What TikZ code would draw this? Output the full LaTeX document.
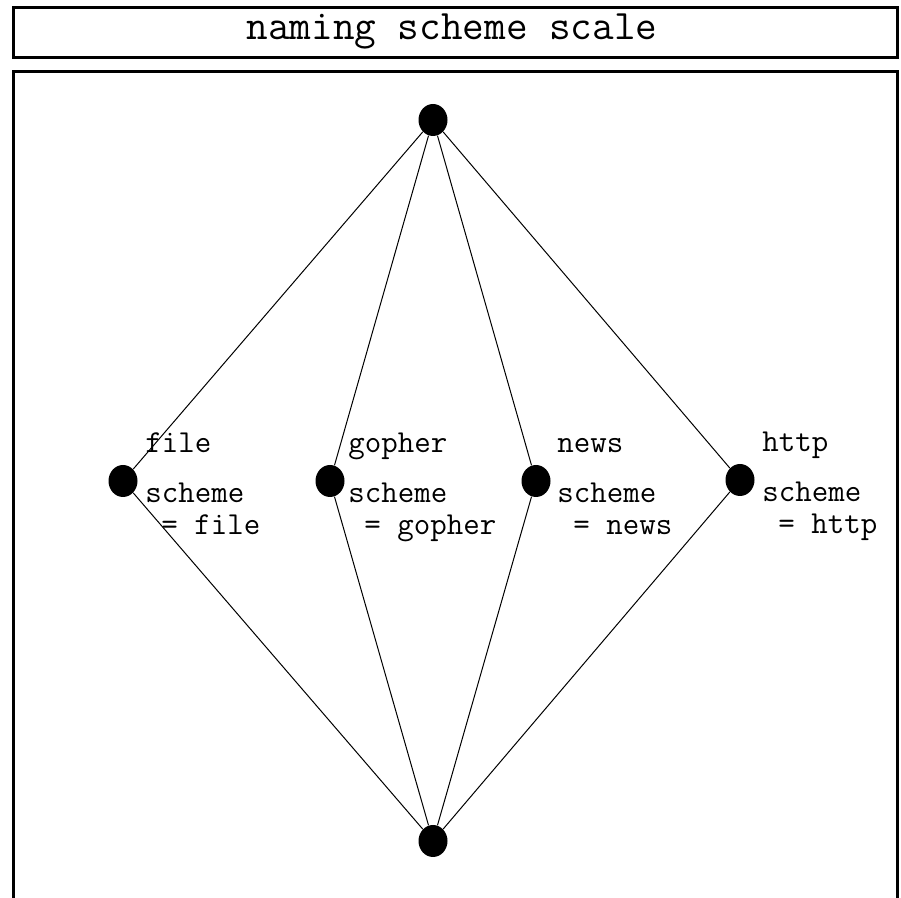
\documentclass[tikz,border=0pt]{standalone}
\usepackage{fontspec}
\usepackage{tikz}
\usetikzlibrary{shapes.geometric}

\begin{document}
\begin{tikzpicture}[x=0.5pt,y=-0.5pt,line cap=butt,
  dot/.style={ellipse,fill,inner sep=0pt,minimum width=14.5pt,minimum height=16pt},
  tag/.style={font=\ttfamily\fontsize{16}{16}\selectfont,inner sep=0pt,anchor=base west},
  frame/.style={line width=1.6pt}]
\useasboundingbox (0,0) rectangle (901,898);
% title bar and main panel
\draw[frame] (13.5,7.5) rectangle (897.5,57.5);
\node[font=\ttfamily\fontsize{21}{21}\selectfont,anchor=base] (title) at (452,40) {naming scheme scale};
\draw[frame] (13.5,898) -- (13.5,71.5) -- (897.5,71.5) -- (897.5,898);
% lattice
\node[dot] (top) at (433,120) {};
\node[dot] (file) at (123,481) {};
\node[dot] (gopher) at (330,481) {};
\node[dot] (news) at (536,481) {};
\node[dot] (http) at (740,480) {};
\node[dot] (bottom) at (433,841) {};
\draw[line width=0.5pt] (top) -- (file) -- (bottom);
\draw[line width=0.5pt] (top) -- (gopher) -- (bottom);
\draw[line width=0.5pt] (top) -- (news) -- (bottom);
\draw[line width=0.5pt] (top) -- (http) -- (bottom);
% labels
\node[tag] (filename) at ([shift={(22,-28)}]file.center) {file};
\node[tag] (filescheme) at ([shift={(22,22)}]file.center) {scheme};
\node[tag] (filevalue) at ([shift={(22,54)}]file.center) {\hspace*{0.5em}= file};
\node[tag] (gophername) at ([shift={(18,-28)}]gopher.center) {gopher};
\node[tag] (gopherscheme) at ([shift={(18,22)}]gopher.center) {scheme};
\node[tag] (gophervalue) at ([shift={(18,54)}]gopher.center) {\hspace*{0.5em}= gopher};
\node[tag] (newsname) at ([shift={(21,-28)}]news.center) {news};
\node[tag] (newsscheme) at ([shift={(21,22)}]news.center) {scheme};
\node[tag] (newsvalue) at ([shift={(21,54)}]news.center) {\hspace*{0.5em}= news};
\node[tag] (httpname) at ([shift={(22,-28)}]http.center) {http};
\node[tag] (httpscheme) at ([shift={(22,22)}]http.center) {scheme};
\node[tag] (httpvalue) at ([shift={(22,54)}]http.center) {\hspace*{0.5em}= http};
\end{tikzpicture}
\end{document}
